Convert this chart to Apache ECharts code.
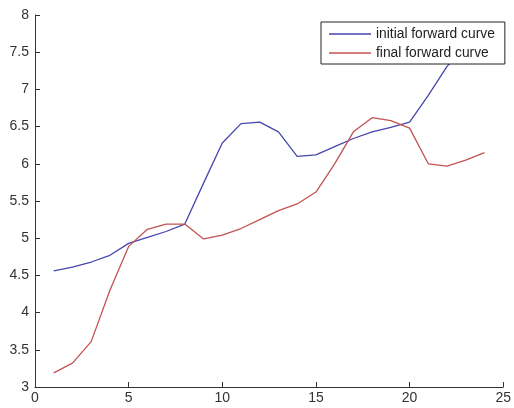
<!DOCTYPE html>
<html>
<head>
<meta charset="utf-8">
<script src="https://cdn.jsdelivr.net/npm/echarts@6/dist/echarts.min.js"></script>
<style>
  html, body { margin: 0; padding: 0; background: #fff; }
  #chart { width: 514px; height: 408px; }
</style>
</head>
<body>
<div id="chart"></div>
<script>
// Maturity index (x) and forward rates for the two curves
const maturities = [1, 2, 3, 4, 5, 6, 7, 8, 9, 10, 11, 12, 13, 14, 15, 16, 17, 18, 19, 20, 21, 22, 23, 24];
const initialCurve = [4.56, 4.61, 4.68, 4.77, 4.93, 5.01, 5.09, 5.19, 5.74, 6.28, 6.54, 6.56, 6.43, 6.10, 6.12, 6.23, 6.34, 6.43, 6.49, 6.56, 6.92, 7.31, 7.58, 7.80];
const finalCurve = [3.19, 3.32, 3.61, 4.30, 4.89, 5.12, 5.19, 5.19, 4.99, 5.04, 5.13, 5.25, 5.37, 5.46, 5.62, 6.00, 6.43, 6.62, 6.58, 6.48, 6.00, 5.97, 6.05, 6.15];
const seriesNames = ['initial forward curve', 'final forward curve'];

const toPairs = (ys) => maturities.map((x, i) => [x, ys[i]]);

const chart = echarts.init(document.getElementById('chart'), null, { renderer: 'canvas' });

const labelFont = { color: '#333', fontFamily: 'Liberation Sans, Arial, sans-serif', fontSize: 14 };
const axisStyle = {
  axisLine: { show: true, lineStyle: { color: '#333', width: 1 } },
  axisTick: { show: true, inside: true, length: 5, lineStyle: { color: '#333' } },
  splitLine: { show: false }
};

chart.setOption({
  animation: false,
  backgroundColor: '#fff',
  grid: { left: 35, right: 6, top: 15, bottom: 21, containLabel: false },
  xAxis: Object.assign({
    type: 'value', min: 0, max: 25, interval: 5,
    axisLabel: Object.assign({ margin: 4 }, labelFont)
  }, axisStyle),
  yAxis: Object.assign({
    type: 'value', min: 3, max: 8, interval: 0.5,
    axisLabel: Object.assign({ margin: 6 }, labelFont)
  }, axisStyle),
  legend: {
    show: true,
    data: seriesNames,
    orient: 'vertical',
    left: 321,
    top: 22,
    padding: [5, 10, 4, 8],
    itemGap: 5,
    itemWidth: 42,
    itemHeight: 1.5,
    icon: 'rect',
    backgroundColor: '#fff',
    borderColor: '#222',
    borderWidth: 1,
    z: 10,
    textStyle: { color: '#222', fontFamily: 'Liberation Sans, Arial, sans-serif', fontSize: 13.8 }
  },
  series: [
    {
      name: seriesNames[0],
      type: 'line',
      data: toPairs(initialCurve),
      symbol: 'none',
      color: '#4646ae',
      lineStyle: { width: 1.3, color: '#4646ae' },
      z: 2
    },
    {
      name: seriesNames[1],
      type: 'line',
      data: toPairs(finalCurve),
      symbol: 'none',
      color: '#c45252',
      lineStyle: { width: 1.3, color: '#c45252' },
      z: 2
    }
  ]
});
</script>
</body>
</html>
